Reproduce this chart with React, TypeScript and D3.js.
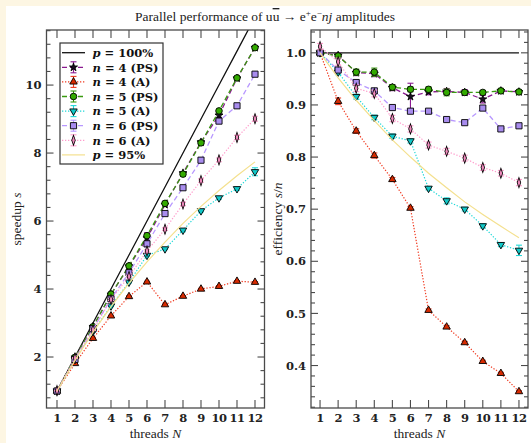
import * as React from "react";
import * as d3 from "d3";

// thread counts
const threads = [1, 2, 3, 4, 5, 6, 7, 8, 9, 10, 11, 12];

// speedup s
const speedN4PS = [1.0, 1.99, 2.89, 3.84, 4.67, 5.5, 6.48, 7.41, 8.32, 9.11, 10.2, 11.1];
const speedN4A = [1.0, 1.81, 2.55, 3.21, 3.78, 4.21, 3.54, 3.79, 4.0, 4.08, 4.23, 4.2];
const speedN5PS = [1.0, 1.99, 2.89, 3.85, 4.68, 5.57, 6.52, 7.38, 8.3, 9.24, 10.21, 11.1];
const speedN5A = [1.0, 1.93, 2.75, 3.5, 4.2, 4.99, 5.18, 5.73, 6.3, 6.68, 6.95, 7.45];
const speedN6PS = [1.0, 1.93, 2.83, 3.71, 4.48, 5.33, 6.22, 6.98, 7.79, 8.94, 9.39, 10.32];
const speedN6A = [1.01, 1.97, 2.8, 3.69, 4.37, 5.12, 5.76, 6.5, 7.19, 7.8, 8.46, 9.01];
const speedP95 = [1.0, 1.9, 2.73, 3.48, 4.17, 4.8, 5.38, 5.93, 6.43, 6.9, 7.33, 7.74];
const speedP100 = [1, 2, 3, 4, 5, 6, 7, 8, 9, 10, 11, 12];

// efficiency s/n
const effN4PS = [1.0, 0.995, 0.962, 0.96, 0.933, 0.916, 0.925, 0.926, 0.924, 0.911, 0.927, 0.925];
const effN4A = [1.0, 0.907, 0.85, 0.803, 0.757, 0.702, 0.506, 0.474, 0.444, 0.408, 0.385, 0.35];
const effN5PS = [1.0, 0.994, 0.963, 0.963, 0.934, 0.93, 0.93, 0.924, 0.924, 0.924, 0.927, 0.925];
const effN5A = [1.0, 0.963, 0.916, 0.876, 0.84, 0.831, 0.74, 0.716, 0.7, 0.668, 0.632, 0.621];
const effN6PS = [1.0, 0.967, 0.943, 0.927, 0.895, 0.888, 0.888, 0.872, 0.866, 0.894, 0.854, 0.86];
const effN6A = [1.012, 0.983, 0.932, 0.922, 0.874, 0.854, 0.823, 0.811, 0.798, 0.78, 0.769, 0.751];
const effP95 = [1.0, 0.952, 0.909, 0.87, 0.833, 0.8, 0.769, 0.741, 0.714, 0.69, 0.667, 0.645];
const effP100 = [1, 1, 1, 1, 1, 1, 1, 1, 1, 1, 1, 1];

// relative uncertainties (same for both panels)
const relErrN4PS = [0.005, 0.005, 0.006, 0.006, 0.006, 0.028, 0.006, 0.006, 0.006, 0.008, 0.005, 0.005];
const relErrN4A = [0.004, 0.007, 0.005, 0.006, 0.005, 0.004, 0.005, 0.005, 0.005, 0.005, 0.005, 0.005];
const relErrN5PS = [0.004, 0.005, 0.006, 0.008, 0.005, 0.005, 0.005, 0.007, 0.004, 0.004, 0.005, 0.004];
const relErrN5A = [0.004, 0.005, 0.005, 0.005, 0.005, 0.005, 0.004, 0.008, 0.005, 0.006, 0.006, 0.016];
const relErrN6PS = [0.004, 0.005, 0.005, 0.005, 0.005, 0.005, 0.004, 0.004, 0.004, 0.005, 0.004, 0.004];
const relErrN6A = [0.006, 0.007, 0.007, 0.007, 0.007, 0.007, 0.007, 0.007, 0.007, 0.007, 0.007, 0.008];

const dashed = "5,3";
const dotted = "1.3,1.7";

type Series = {
  key: string;
  label: [string, string, string]; // italic var, " = ", rest
  speed: number[];
  eff: number[];
  err?: number[];
  color: string;
  dash?: string;
  width: number;
  marker?: d3.SymbolType;
  markerFill?: string;
  size?: number;
  rotate?: number;
  sx?: number;
};

const series: Series[] = [
  { key: "p100", label: ["p", " = ", "100%"], speed: speedP100, eff: effP100, color: "#111", width: 1.3 },
  { key: "n4ps", label: ["n", " = ", "4 (PS)"], speed: speedN4PS, eff: effN4PS, err: relErrN4PS, color: "#8a1a90", dash: dashed, width: 1.3, marker: d3.symbolStar, markerFill: "#1a1020", size: 20 },
  { key: "n4a", label: ["n", " = ", "4 (A)"], speed: speedN4A, eff: effN4A, err: relErrN4A, color: "#f03a20", dash: dotted, width: 1.2, marker: d3.symbolTriangle, markerFill: "#d82a00", size: 24 },
  { key: "n5ps", label: ["n", " = ", "5 (PS)"], speed: speedN5PS, eff: effN5PS, err: relErrN5PS, color: "#3a9a10", dash: dashed, width: 1.3, marker: d3.symbolCircle, markerFill: "#33aa00", size: 34 },
  { key: "n5a", label: ["n", " = ", "5 (A)"], speed: speedN5A, eff: effN5A, err: relErrN5A, color: "#20d8d8", dash: dotted, width: 1.2, marker: d3.symbolTriangle, markerFill: "#10c8c8", size: 24, rotate: 180 },
  { key: "n6ps", label: ["n", " = ", "6 (PS)"], speed: speedN6PS, eff: effN6PS, err: relErrN6PS, color: "#b898ff", dash: dashed, width: 1.3, marker: d3.symbolSquare, markerFill: "#a88cee", size: 38 },
  { key: "n6a", label: ["n", " = ", "6 (A)"], speed: speedN6A, eff: effN6A, err: relErrN6A, color: "#ff9ccc", dash: dotted, width: 1.2, marker: d3.symbolDiamond, markerFill: "#ee88bb", size: 30, sx: 0.6 },
  { key: "p95", label: ["p", " = ", "95%"], speed: speedP95, eff: effP95, color: "#f4e08e", width: 1.2 },
];

const W = 531, H = 443;
const TOP = 30, BOTTOM = 408;
const serif = "'Liberation Serif', 'DejaVu Serif', serif";
const boldSerif = "'DejaVu Serif', serif";
const frameColor = "#4a4a4a";

const xL = d3.scaleLinear().domain([0.417, 12.528]).range([46.5, 264.5]);
const yL = d3.scaleLinear().domain([0.5, 11.62]).range([BOTTOM, TOP]);
const xR = d3.scaleLinear().domain([0.5, 12.5]).range([311, 528]);
const yR = d3.scaleLinear().domain([0.3185, 1.0438]).range([BOTTOM, TOP]);

function Marker({ s, x, y }: { s: Series; x: number; y: number }) {
  if (!s.marker) return null;
  const tr = `translate(${x},${y})` + (s.rotate ? ` rotate(${s.rotate})` : "") + (s.sx ? ` scale(${s.sx},1)` : "");
  const d = d3.symbol().type(s.marker).size(s.size || 30)() || "";
  return (
    <path d={d} transform={tr} fill={s.markerFill} stroke="#000" strokeWidth={s.sx ? 1.2 : 0.9} />
  );
}

function Panel({ id, x, y, values, yTicks, yMinor, fmt, label }: {
  id: string;
  x: d3.ScaleLinear<number, number>;
  y: d3.ScaleLinear<number, number>;
  values: (s: Series) => number[];
  yTicks: number[];
  yMinor: number[];
  fmt: (v: number) => string;
  label: React.ReactNode;
}) {
  const [x0, x1] = x.range();
  const line = d3.line<number>().x((_, i) => x(threads[i])).y(v => y(v));
  return (
    <g>
      <defs>
        <clipPath id={id}>
          <rect x={x0} y={TOP} width={x1 - x0} height={BOTTOM - TOP} />
        </clipPath>
      </defs>
      <g clipPath={`url(#${id})`}>
        {series.map(s => {
          const vals = values(s);
          return (
            <g key={s.key}>
              <path d={line(vals) || ""} fill="none" stroke={s.color}
                strokeWidth={s.width} strokeDasharray={s.dash} />
              {s.err && vals.map((v, i) => {
                const e = v * s.err![i];
                const cx = x(threads[i]);
                return (
                  <g key={i} stroke={s.color} strokeWidth={1.1}>
                    <line x1={cx} x2={cx} y1={y(v - e)} y2={y(v + e)} />
                    <line x1={cx - 3} x2={cx + 3} y1={y(v - e)} y2={y(v - e)} />
                    <line x1={cx - 3} x2={cx + 3} y1={y(v + e)} y2={y(v + e)} />
                  </g>
                );
              })}
              {s.marker && vals.map((v, i) => (
                <Marker key={i} s={s} x={x(threads[i])} y={y(v)} />
              ))}
            </g>
          );
        })}
      </g>
      <rect x={x0} y={TOP} width={x1 - x0} height={BOTTOM - TOP} fill="none" stroke={frameColor} strokeWidth={1.3} />
      <g stroke={frameColor} strokeWidth={1.1}>
        {threads.map(t => (
          <g key={t}>
            <line x1={x(t)} x2={x(t)} y1={BOTTOM} y2={BOTTOM - 8} />
            <line x1={x(t)} x2={x(t)} y1={TOP} y2={TOP + 8} />
          </g>
        ))}
        {yTicks.map(t => (
          <g key={"M" + t}>
            <line x1={x0} x2={x0 + 7} y1={y(t)} y2={y(t)} />
            <line x1={x1} x2={x1 - 7} y1={y(t)} y2={y(t)} />
          </g>
        ))}
        {yMinor.map(t => (
          <g key={"m" + t}>
            <line x1={x0} x2={x0 + 4} y1={y(t)} y2={y(t)} />
            <line x1={x1} x2={x1 - 4} y1={y(t)} y2={y(t)} />
          </g>
        ))}
      </g>
      {threads.map(t => (
        <text key={t} x={x(t)} y={422} textAnchor="middle" fontFamily={boldSerif} fontWeight="bold"
          fontSize={11.5} letterSpacing={-0.6} fill="#222">{t}</text>
      ))}
      {yTicks.map(t => (
        <text key={t} x={x0 - 5} y={y(t) + 4.2} textAnchor="end" fontFamily={boldSerif} fontWeight="bold"
          fontSize={11.5} fill="#222">{fmt(t)}</text>
      ))}
      <text x={(x0 + x1) / 2} y={438} textAnchor="middle" fontFamily={serif} fontSize={13.5} fill="#222">
        threads <tspan fontStyle="italic">N</tspan>
      </text>
      {label}
    </g>
  );
}

function Legend() {
  const lx = 60, ly = 43, lw = 103, lh = 121;
  const row0 = 52.7, step = 14.6;
  return (
    <g>
      <rect x={lx} y={ly} width={lw} height={lh} fill="#fff" stroke="#333" strokeWidth={1.2} />
      {series.map((s, i) => {
        const cy = row0 + i * step;
        const e = s.err ? 5.5 : 0;
        return (
          <g key={s.key}>
            <line x1={62} x2={85} y1={cy} y2={cy} stroke={s.color} strokeWidth={s.width} strokeDasharray={s.dash} />
            {s.err && (
              <g stroke={s.color} strokeWidth={1.1}>
                <line x1={73.5} x2={73.5} y1={cy - e} y2={cy + e} />
                <line x1={70.5} x2={76.5} y1={cy - e} y2={cy - e} />
                <line x1={70.5} x2={76.5} y1={cy + e} y2={cy + e} />
              </g>
            )}
            <Marker s={s} x={73.5} y={cy} />
            <text x={92.5} y={cy + 4.2} fontFamily={boldSerif} fontWeight="bold" fontSize={11.5} fill="#111">
              <tspan fontStyle="italic">{s.label[0]}</tspan>{s.label[1]}{s.label[2]}
            </text>
          </g>
        );
      })}
    </g>
  );
}

export default function App() {
  const leftMajor = [2, 4, 6, 8, 10];
  const leftMinor = d3.range(2, 30).map(k => k * 0.4).filter(v => v < 11.62 && !leftMajor.some(m => Math.abs(m - v) < 1e-6));
  const rightMajor = [0.4, 0.5, 0.6, 0.7, 0.8, 0.9, 1.0];
  const rightMinor = d3.range(16, 53).map(k => k * 0.02).filter(v => v > 0.3185 && v < 1.0438 && !rightMajor.some(m => Math.abs(m - v) < 1e-6));
  return (
    <>
      <style>{"body{margin:0}"}</style>
      <svg width={W} height={H} style={{ display: "block" }}>
        <rect x={0} y={0} width={W} height={H} fill="#fdf6e3" />
        <rect x={6} y={6} width={W - 6} height={H - 6} fill="#fff" />
        <text x={265} y={21} textAnchor="middle" fontFamily={serif} fontSize={13.5} fill="#222">
          Parallel performance of u<tspan textDecoration="overline">u</tspan> → e<tspan dy={-5} fontSize={9}>+</tspan><tspan dy={5}>e</tspan><tspan dy={-5} fontSize={9}>−</tspan><tspan dy={5} fontStyle="italic">nj</tspan> amplitudes
        </text>
        <Panel id="clipL" x={xL} y={yL} values={s => s.speed} yTicks={leftMajor} yMinor={leftMinor}
          fmt={v => String(v)}
          label={<text transform={`translate(21,${(TOP + BOTTOM) / 2}) rotate(-90)`} textAnchor="middle"
            fontFamily={serif} fontSize={13.5} fill="#222">speedup <tspan fontStyle="italic">s</tspan></text>} />
        <Panel id="clipR" x={xR} y={yR} values={s => s.eff} yTicks={rightMajor} yMinor={rightMinor}
          fmt={v => v.toFixed(1)}
          label={<text transform={`translate(282,${(TOP + BOTTOM) / 2}) rotate(-90)`} textAnchor="middle"
            fontFamily={serif} fontSize={13.5} fill="#222">efficiency <tspan fontStyle="italic">s</tspan>/<tspan fontStyle="italic">n</tspan></text>} />
        <Legend />
      </svg>
    </>
  );
}
